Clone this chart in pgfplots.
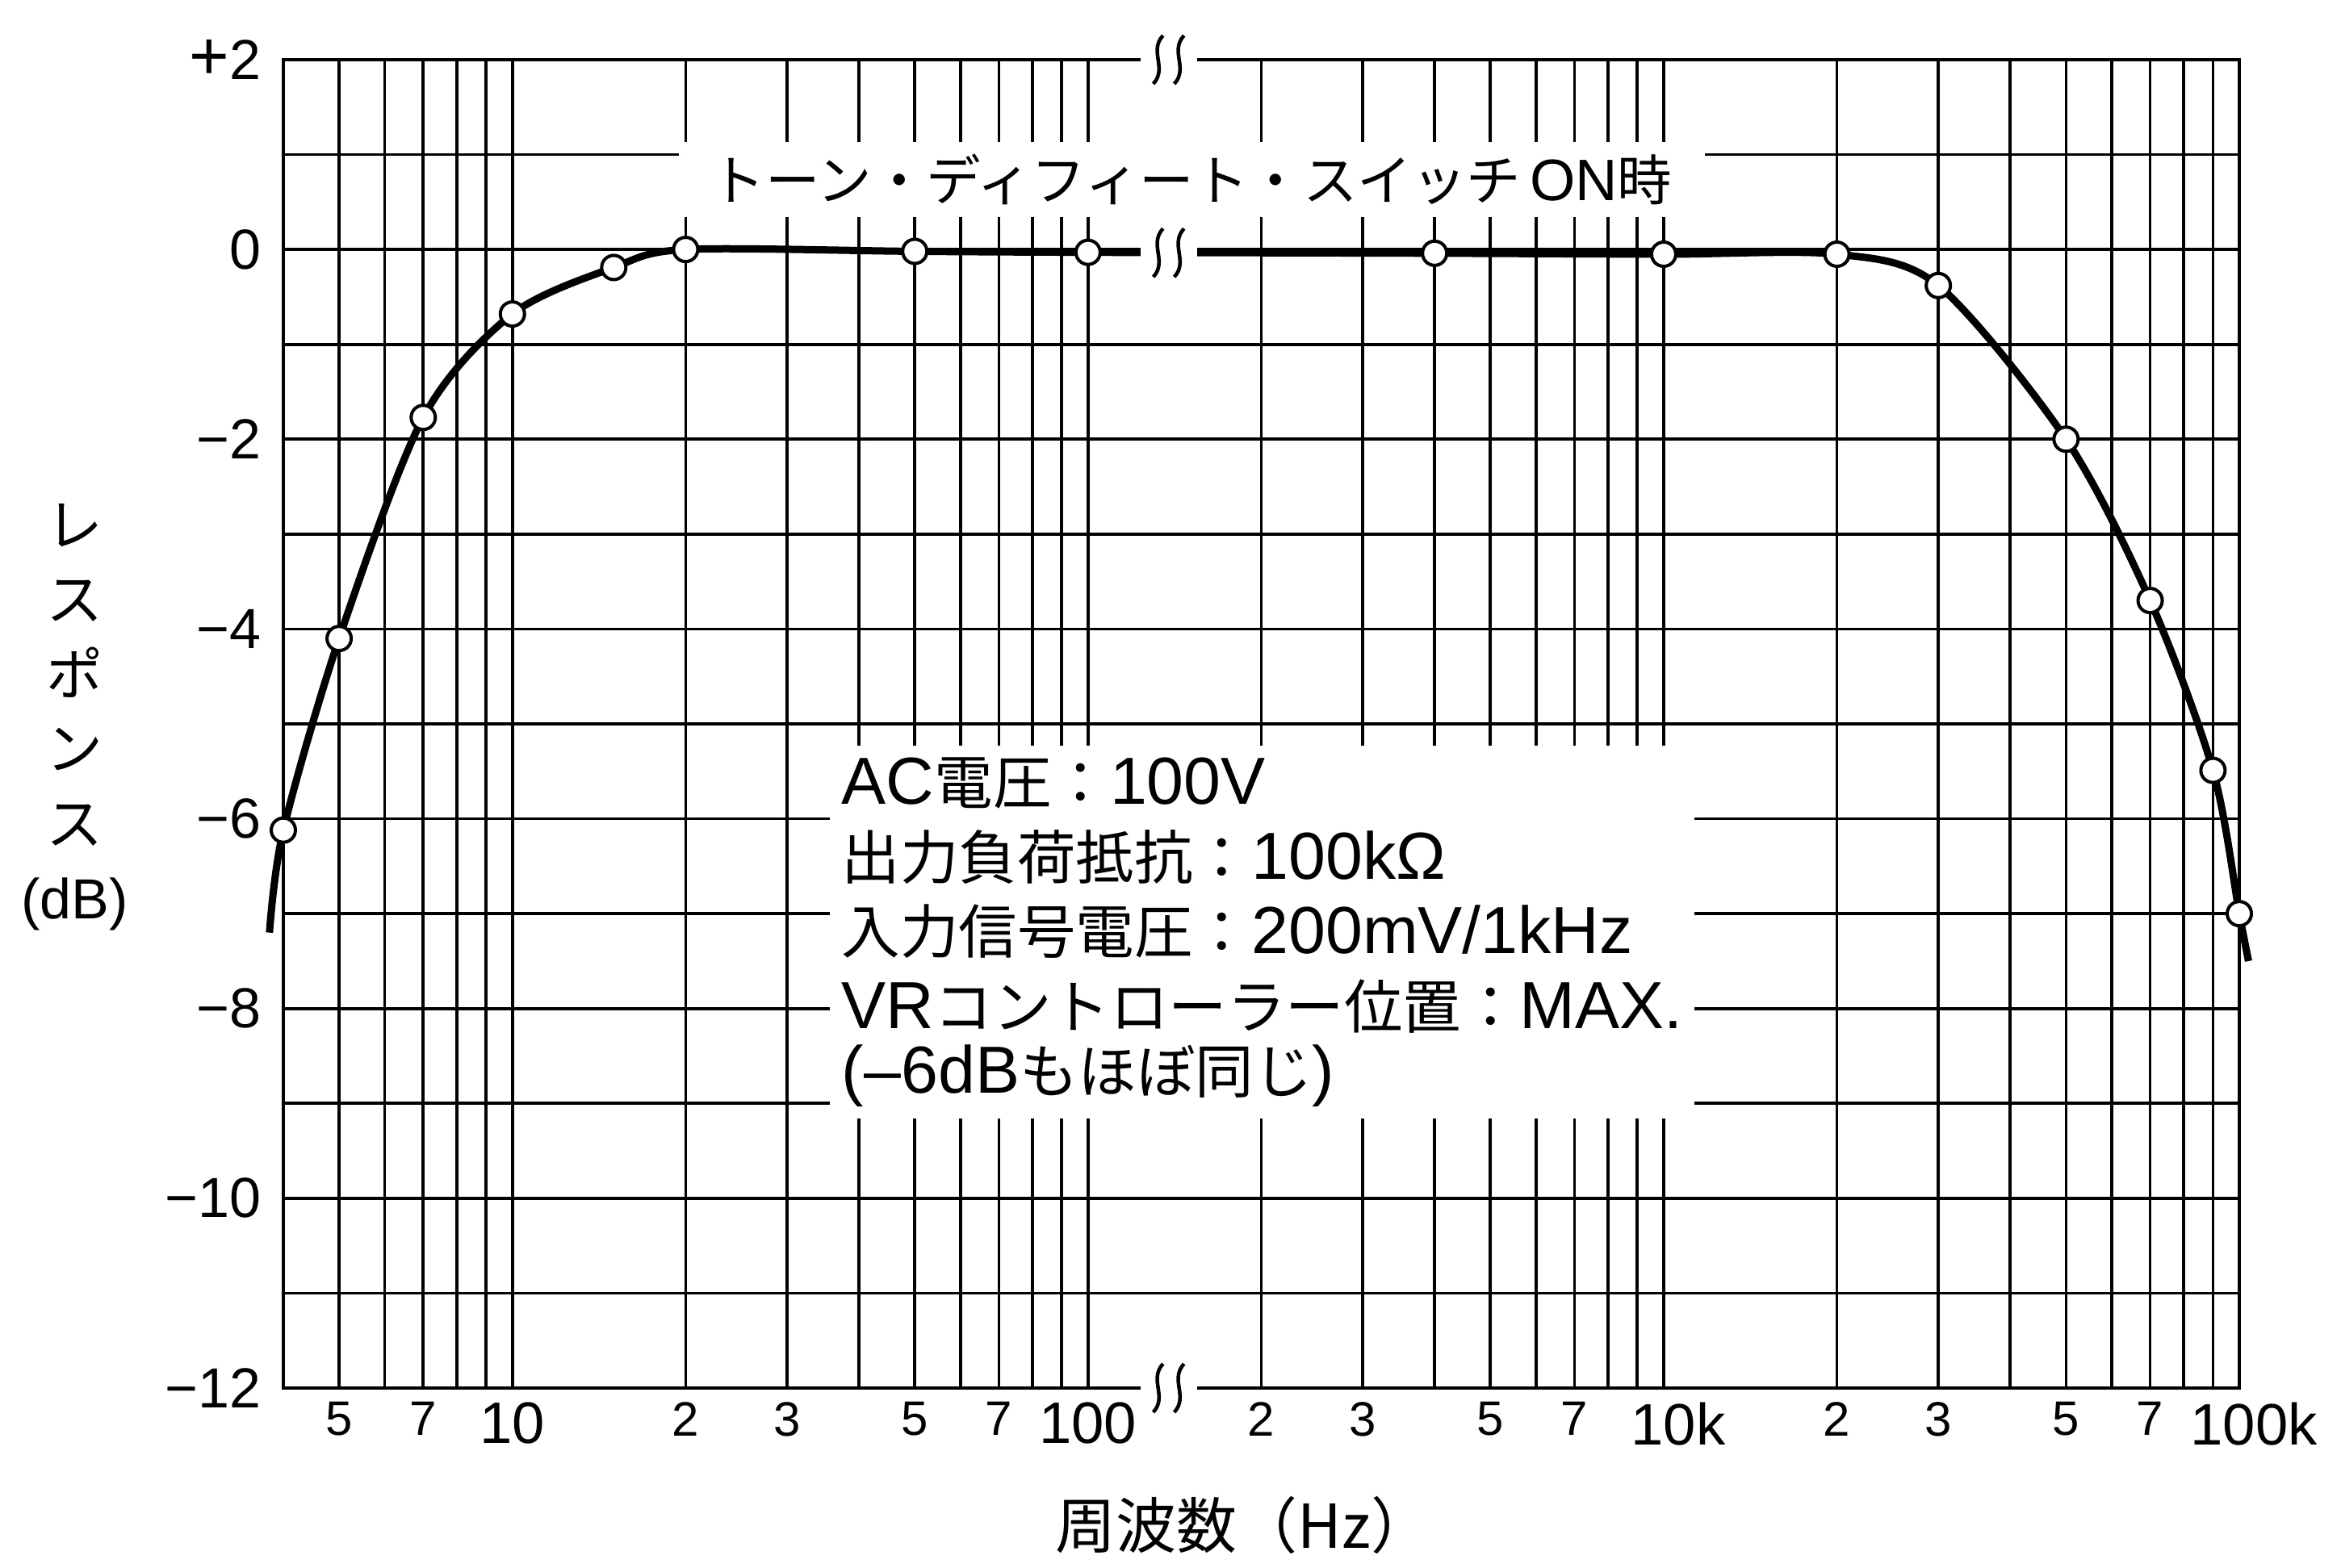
\documentclass[border=0pt]{standalone}
\usepackage{fontspec}
\setmainfont{Liberation Sans}
\newfontfamily\jp{Noto Sans CJK JP}
\usepackage{pgfplots}
\pgfplotsset{compat=1.18}
\newcommand\sd{\fontsize{12}{12}\selectfont}
\newcommand\dc[1]{\raisebox{-2.6pt}{\fontsize{14.5}{14.5}\selectfont #1}}
\newcommand\la[1]{{\fontsize{16.5}{18.5}\selectfont #1}}
\newcommand\brk[1]{%
  \fill[white] ([xshift=-7pt,yshift=-1.5pt]#1) rectangle ([xshift=7pt,yshift=1.5pt]#1);
  \begin{scope}[shift={(#1)}]
    \draw[line width=0.9pt] (-3.8pt,-6pt) .. controls (-0.2pt,-2pt) and (-5pt,2pt) .. (-1.4pt,6pt);
    \draw[line width=0.9pt] (1.4pt,-6pt) .. controls (5pt,-2pt) and (0.2pt,2pt) .. (3.8pt,6pt);
  \end{scope}}
\begin{document}
\begin{tikzpicture}
\begin{axis}[
  scale only axis, width=484.6pt, height=329.2pt,
  xmin=0.60206, xmax=4, ymin=-12, ymax=2,
  axis line style={line width=0.9pt},
  xtick={0.69897,0.84510,1,1.30103,1.47712,1.69897,1.84510,2,2.30103,2.47712,2.69897,2.84510,3,3.30103,3.47712,3.69897,3.84510,4},
  xticklabels={{\sd 5},{\sd 7},{\dc{10}},{\sd 2},{\sd 3},{\sd 5},{\sd 7},{\dc{100}},{\sd 2},{\sd 3},{\sd 5},{\sd 7},{\dc{10\rlap{k}}},{\sd 2},{\sd 3},{\sd 5},{\sd 7},{\dc{100\rlap{k}}}},
  minor xtick={0.77815,0.90309,0.95424,1.60206,1.77815,1.90309,1.95424,2.60206,2.77815,2.90309,2.95424,3.60206,3.77815,3.90309,3.95424},
  ytick={-12,-10,...,2},
  yticklabels={−12,−10,−8,−6,−4,−2,0,{\fontsize{17}{17}\selectfont +}2},
  minor ytick={-11,-9,...,1},
  grid=both,
  major grid style={line width=0.75pt, black},
  minor grid style={line width=0.75pt, black},
  major tick length=0pt, minor tick length=0pt,
  tick style={draw=none},
  yticklabel style={font=\fontsize{14}{14}\selectfont, xshift=-2pt},
  clip=false,
]
\addplot[line width=1.8pt, smooth, tension=0.5] coordinates {
 (0.578,-7.2) (0.60206,-6.12) (0.69897,-4.1) (0.84510,-1.77) (1,-0.68) (1.17609,-0.19)
 (1.30103,0) (1.69897,-0.02) (2,-0.03) (2.60206,-0.04) (3,-0.05) (3.30103,-0.05)
 (3.47712,-0.38) (3.69897,-2.0) (3.84510,-3.7) (3.95424,-5.49) (4,-7.0) (4.016,-7.5)};
\addplot[only marks, mark=*, mark size=3pt, mark options={fill=white, draw=black, line width=0.8pt}] coordinates {
 (0.60206,-6.12) (0.69897,-4.1) (0.84510,-1.77) (1,-0.68) (1.17609,-0.19)
 (1.30103,0) (1.69897,-0.02) (2,-0.03) (2.60206,-0.04) (3,-0.05) (3.30103,-0.05)
 (3.47712,-0.38) (3.69897,-2.0) (3.84510,-3.7) (3.95424,-5.49) (4,-7.0)};
\node[fill=white, inner xsep=8pt, inner ysep=3pt, font=\jp\fontsize{13.5}{13.5}\selectfont]
  at (axis cs:2.18,0.74) {トーン・ディフィート・スイッチ\,{\normalfont\fontsize{14.5}{14.5}\selectfont ON}時};
\node[fill=white, anchor=north west, align=left, inner sep=3pt, font=\fontsize{14.5}{18.5}\selectfont]
  at (axis cs:1.55,-5.22) {\la{AC}{\jp 電圧：}\la{100V}\\{\jp 出力負荷抵抗：}\la{100kΩ}\\{\jp 入力信号電圧：}\la{200mV/1kHz}\\\la{VR}{\jp コントローラー位置：}\la{MAX.}\\[-2.5pt]\la{(–6dB}{\jp もほぼ同じ}\la{)}};
\node[font=\jp\fontsize{14}{18.5}\selectfont, align=center] at ([xshift=-51.7pt]axis cs:0.60206,-4.93)
  {レ\\ス\\ポ\\ン\\ス\\{\normalfont (dB)}};
\node[font=\jp\fontsize{15}{15}\selectfont] at ([yshift=-34pt]axis cs:2.27,-12) {周波数（Hz）};
\coordinate (SW) at (rel axis cs:0,0);
\coordinate (NE) at (rel axis cs:1,1);
\coordinate (bt) at (axis cs:2.14,2);
\coordinate (bz) at (axis cs:2.14,-0.035);
\coordinate (bb) at (axis cs:2.14,-12);
\end{axis}
\brk{bt}
\brk{bz}
\brk{bb}
\path ([xshift=-70.2pt,yshift=-42.6pt]SW) rectangle ([xshift=25.2pt,yshift=14.8pt]NE);
\end{tikzpicture}
\end{document}
